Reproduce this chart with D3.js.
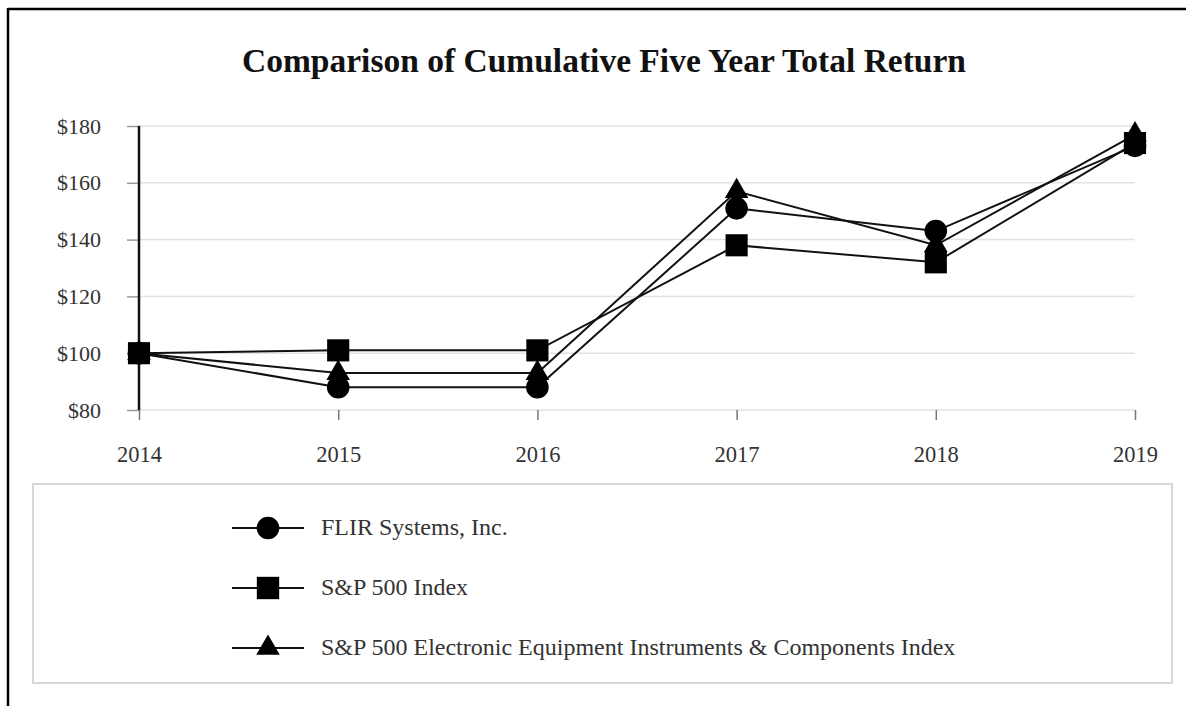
<!DOCTYPE html>
<html><head><meta charset="utf-8">
<script src="https://cdn.jsdelivr.net/npm/d3@7/dist/d3.min.js"></script>
<style>body{margin:0;background:#fff;}svg{display:block;}</style>
</head><body>
<svg id="c" width="1186" height="706"></svg>
<script>
const years = ["2014","2015","2016","2017","2018","2019"];
const flir = [100, 88, 88, 151, 143, 173];
const sp500 = [100, 101, 101, 138, 132, 174];
const electronic = [100, 93, 93, 157, 138, 177];
const yTicks = [80, 100, 120, 140, 160, 180];
const seriesNames = ["FLIR Systems, Inc.", "S&P 500 Index", "S&P 500 Electronic Equipment Instruments & Components Index"];
const title = "Comparison of Cumulative Five Year Total Return";

const svg = d3.select("#c");
const font = "'Liberation Serif', 'Times New Roman', serif";

// outer frame (top and left)
svg.append("line").attr("x1",8).attr("x2",1186).attr("y1",9).attr("y2",9).attr("stroke","#000").attr("stroke-width",2.5);
svg.append("line").attr("x1",8).attr("x2",8).attr("y1",8).attr("y2",706).attr("stroke","#000").attr("stroke-width",2.5);

svg.append("text").attr("x",604).attr("y",72).attr("text-anchor","middle")
  .attr("font-family",font).attr("font-weight","bold").attr("font-size",33.5).attr("fill","#111").text(title);

const x = d3.scalePoint().domain(years).range([139,1135]);
const y = d3.scaleLinear().domain([80,180]).range([410,126]);

// gridlines
svg.append("g").selectAll("line").data(yTicks).join("line")
  .attr("x1",139).attr("x2",1135).attr("y1",d=>y(d)).attr("y2",d=>y(d))
  .attr("stroke","#e2e2e2").attr("stroke-width",1.5);

// y axis
const yAxis = svg.append("g").attr("transform","translate(139,0)")
  .call(d3.axisLeft(y).tickValues(yTicks).tickFormat(d=>"$"+d).tickSize(12).tickPadding(26));
yAxis.select(".domain").remove();
yAxis.selectAll(".tick line").attr("stroke","#999").attr("stroke-width",1.5);
yAxis.selectAll("text").attr("font-family",font).attr("font-size",22).attr("fill","#333");
svg.append("line").attr("x1",139).attr("x2",139).attr("y1",126).attr("y2",410).attr("stroke","#111").attr("stroke-width",2.5);

// x axis
const xAxis = svg.append("g").attr("transform","translate(0,410)")
  .call(d3.axisBottom(x).tickSize(10).tickPadding(26));
xAxis.select(".domain").remove();
xAxis.selectAll(".tick line").attr("stroke","#777").attr("stroke-width",1.5);
xAxis.selectAll("text").attr("font-family",font).attr("font-size",22.5).attr("fill","#333");

const series = [
  {name: seriesNames[0], values: flir, shape: d3.symbolCircle, size: 400},
  {name: seriesNames[2], values: electronic, shape: d3.symbolTriangle, size: 240},
  {name: seriesNames[1], values: sp500, shape: d3.symbolSquare, size: 490}
];
const line = d3.line().x((d,i)=>x(years[i])).y(d=>y(d));

series.forEach(s=>{
  svg.append("path").attr("d",line(s.values)).attr("fill","none").attr("stroke","#111").attr("stroke-width",2);
});
series.forEach(s=>{
  svg.append("g").selectAll("path").data(s.values).join("path")
    .attr("transform",(d,i)=>`translate(${x(years[i])},${y(d)})`)
    .attr("d",d3.symbol().type(s.shape).size(s.size)).attr("fill","#000");
});

// legend
svg.append("rect").attr("x",33).attr("y",484).attr("width",1139).attr("height",199)
  .attr("fill","none").attr("stroke","#ccc").attr("stroke-width",1.5);
const legendItems = [
  {name: seriesNames[0], shape: d3.symbolCircle, size: 400},
  {name: seriesNames[1], shape: d3.symbolSquare, size: 500},
  {name: seriesNames[2], shape: d3.symbolTriangle, size: 240}
];
const lg = svg.append("g").selectAll("g").data(legendItems).join("g")
  .attr("transform",(d,i)=>`translate(0,${528+i*60})`);
lg.append("line").attr("x1",232).attr("x2",304).attr("stroke","#111").attr("stroke-width",2);
lg.append("path").attr("transform","translate(268,0)").attr("d",d=>d3.symbol().type(d.shape).size(d.size)()).attr("fill","#000");
lg.append("text").attr("x",321).attr("y",7).attr("font-family",font).attr("font-size",24).attr("fill","#333").text(d=>d.name);
</script>
</body></html>
